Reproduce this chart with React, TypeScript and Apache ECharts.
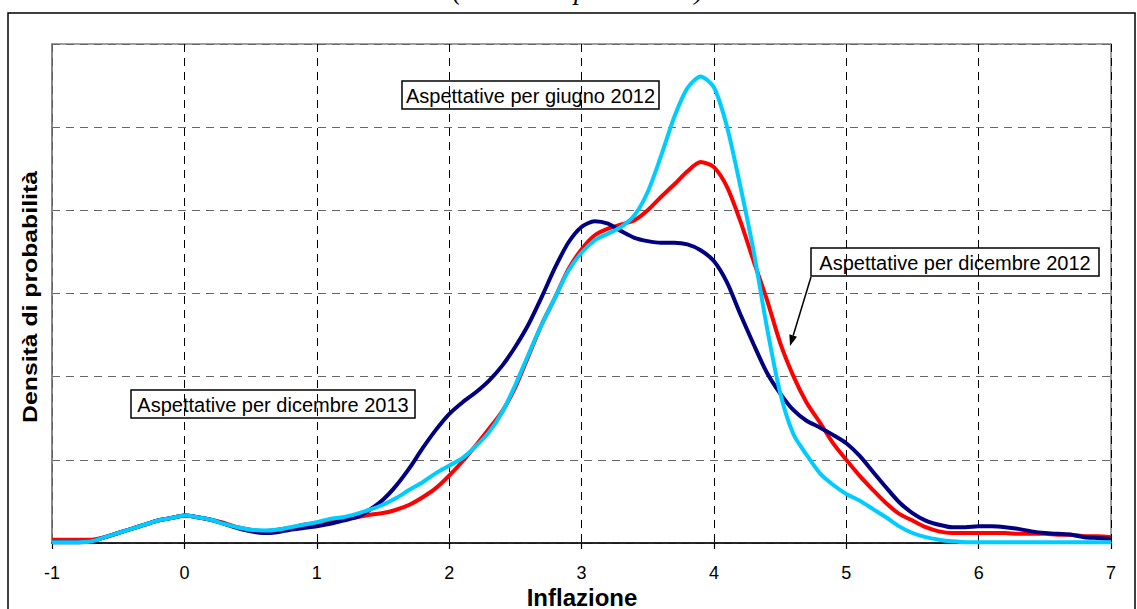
import React, { useEffect, useRef } from "react";
import * as echarts from "echarts";

const xValues: number[] = [
  -1.0, -0.9, -0.8, -0.7, -0.6, -0.5, -0.4, -0.3, -0.2, -0.1,
  0.0, 0.1, 0.2, 0.3, 0.4, 0.5, 0.6, 0.7, 0.8, 0.9,
  1.0, 1.1, 1.2, 1.3, 1.4, 1.5, 1.6, 1.7, 1.8, 1.9,
  2.0, 2.1, 2.2, 2.3, 2.4, 2.5, 2.6, 2.7, 2.8, 2.9,
  3.0, 3.1, 3.2, 3.3, 3.4, 3.5, 3.6, 3.7, 3.8, 3.9,
  4.0, 4.1, 4.2, 4.3, 4.4, 4.5, 4.6, 4.7, 4.8, 4.9,
  5.0, 5.1, 5.2, 5.3, 5.4, 5.5, 5.6, 5.7, 5.8, 5.9,
  6.0, 6.1, 6.2, 6.3, 6.4, 6.5, 6.6, 6.7, 6.8, 6.9, 7.0,
];

// Aspettative per dicembre 2013 (navy)
const dic2013: number[] = [
  0.001, 0.001, 0.001, 0.002, 0.007, 0.012, 0.017, 0.022, 0.027, 0.030,
  0.033, 0.031, 0.028, 0.023, 0.018, 0.014, 0.012, 0.013, 0.016, 0.018,
  0.020, 0.023, 0.027, 0.031, 0.040, 0.052, 0.069, 0.090, 0.114, 0.136,
  0.155, 0.169, 0.181, 0.195, 0.213, 0.236, 0.263, 0.296, 0.331, 0.361,
  0.380, 0.387, 0.384, 0.375, 0.367, 0.363, 0.361, 0.361, 0.359, 0.352,
  0.339, 0.313, 0.275, 0.239, 0.205, 0.180, 0.160, 0.147, 0.139, 0.130,
  0.120, 0.105, 0.086, 0.067, 0.049, 0.036, 0.027, 0.022, 0.019, 0.019,
  0.020, 0.020, 0.019, 0.017, 0.014, 0.012, 0.011, 0.010, 0.007, 0.006, 0.005,
];

// Aspettative per dicembre 2012 (red)
const dic2012: number[] = [
  0.004, 0.004, 0.004, 0.004, 0.007, 0.012, 0.017, 0.022, 0.027, 0.030,
  0.033, 0.031, 0.028, 0.024, 0.019, 0.016, 0.014, 0.016, 0.018, 0.022,
  0.024, 0.027, 0.029, 0.031, 0.034, 0.036, 0.040, 0.046, 0.055, 0.066,
  0.081, 0.098, 0.117, 0.137, 0.158, 0.187, 0.225, 0.263, 0.295, 0.329,
  0.353, 0.370, 0.378, 0.383, 0.388, 0.400, 0.416, 0.431, 0.447, 0.458,
  0.452, 0.428, 0.387, 0.339, 0.293, 0.241, 0.201, 0.169, 0.145, 0.120,
  0.100, 0.081, 0.064, 0.048, 0.035, 0.027, 0.019, 0.014, 0.012, 0.012,
  0.012, 0.012, 0.012, 0.011, 0.011, 0.011, 0.010, 0.010, 0.008, 0.008, 0.007,
];

// Aspettative per giugno 2012 (light blue)
const giu2012: number[] = [
  0.001, 0.001, 0.001, 0.002, 0.007, 0.012, 0.017, 0.022, 0.027, 0.030,
  0.033, 0.031, 0.028, 0.023, 0.019, 0.016, 0.015, 0.016, 0.019, 0.022,
  0.025, 0.029, 0.031, 0.035, 0.040, 0.046, 0.054, 0.064, 0.073, 0.084,
  0.093, 0.102, 0.116, 0.133, 0.157, 0.190, 0.227, 0.263, 0.295, 0.327,
  0.349, 0.364, 0.372, 0.380, 0.394, 0.422, 0.465, 0.512, 0.547, 0.561,
  0.548, 0.500, 0.429, 0.351, 0.260, 0.181, 0.131, 0.106, 0.084, 0.070,
  0.059, 0.051, 0.041, 0.031, 0.020, 0.012, 0.007, 0.004, 0.002, 0.001,
  0.001, 0.001, 0.001, 0.001, 0.001, 0.001, 0.001, 0.001, 0.001, 0.001, 0.001,
];

const seriesNames = [
  "Aspettative per dicembre 2012",
  "Aspettative per dicembre 2013",
  "Aspettative per giugno 2012",
];
const titleText = "(densità di probabilità)";
const xAxisName = "Inflazione";
const yAxisName = "Densità di probabilità";

const SANS = "Arial, 'Liberation Sans', sans-serif";

function pairs(ys: number[]): [number, number][] {
  return xValues.map((x, i) => [x, ys[i]]);
}

function labelBox(x: number, y: number, w: number, h: number, text: string) {
  return {
    type: "group",
    z: 100,
    children: [
      {
        type: "rect",
        shape: { x, y, width: w, height: h },
        style: { fill: "#fff", stroke: "#000", lineWidth: 1.5 },
      },
      {
        type: "text",
        x: x + w / 2,
        y: y + h / 2 + 1,
        style: {
          text,
          fill: "#000",
          font: `20px ${SANS}`,
          align: "center",
          verticalAlign: "middle",
        },
      },
    ],
  };
}

export default function App() {
  const ref = useRef<HTMLDivElement>(null);

  useEffect(() => {
    if (!ref.current) return;
    const chart = echarts.init(ref.current, null, { renderer: "svg" });

    // arrow geometry (from box corner to red curve)
    const ax0 = 811, ay0 = 277, ax1 = 790, ay1 = 346;
    const dx = ax1 - ax0, dy = ay1 - ay0;
    const len = Math.sqrt(dx * dx + dy * dy);
    const ux = dx / len, uy = dy / len;
    const bx = ax1 - ux * 11, by = ay1 - uy * 11;
    const px = -uy * 4, py = ux * 4;

    chart.setOption({
      animation: false,
      backgroundColor: "#fff",
      grid: {
        left: 52,
        right: 26,
        top: 44,
        bottom: 66,
        show: true,
        borderColor: "#808080",
        borderWidth: 1.5,
      },
      xAxis: {
        type: "value",
        min: -1,
        max: 7,
        interval: 1,
        axisLine: { onZero: false, lineStyle: { color: "#000", width: 1.5 } },
        axisTick: { show: true, length: 6, lineStyle: { color: "#000", width: 1.2 } },
        axisLabel: { fontFamily: SANS, fontSize: 18, color: "#000", margin: 21, lineHeight: 18 },
        splitLine: {
          show: true,
          lineStyle: { color: "#000", type: [8, 6], width: 1 },
        },
      },
      yAxis: {
        type: "value",
        min: 0,
        max: 0.6,
        interval: 0.1,
        axisLine: { show: true, onZero: false, lineStyle: { color: "#808080", width: 1.5 } },
        axisTick: { show: false },
        axisLabel: { show: false },
        splitLine: {
          show: true,
          lineStyle: { color: "#666", type: [8, 6], width: 1.2 },
        },
      },
      series: [
        {
          name: seriesNames[0],
          type: "line",
          data: pairs(dic2012),
          showSymbol: false,
          smooth: 0.25,
          lineStyle: { color: "#FF0000", width: 4 },
          z: 3,
        },
        {
          name: seriesNames[1],
          type: "line",
          data: pairs(dic2013),
          showSymbol: false,
          smooth: 0.25,
          lineStyle: { color: "#000080", width: 4 },
          z: 4,
        },
        {
          name: seriesNames[2],
          type: "line",
          data: pairs(giu2012),
          showSymbol: false,
          smooth: 0.25,
          lineStyle: { color: "#00CCFF", width: 4 },
          z: 5,
        },
      ],
      graphic: [
        {
          type: "rect",
          z: 0,
          silent: true,
          shape: { x: 8, y: 13, width: 1127, height: 640 },
          style: { fill: "none", stroke: "#000", lineWidth: 1.5 },
        },
        {
          type: "text",
          x: 578,
          y: 3,
          style: {
            text: titleText,
            fill: "#000",
            font: "italic 27px 'Liberation Serif', 'Times New Roman', serif",
            align: "center",
            verticalAlign: "bottom",
          },
        },
        {
          type: "text",
          x: 582,
          y: 597,
          style: {
            text: xAxisName,
            fill: "#000",
            font: `bold 24px ${SANS}`,
            lineHeight: 22,
            align: "center",
            verticalAlign: "middle",
          },
        },
        {
          type: "text",
          x: 30,
          y: 297,
          rotation: Math.PI / 2,
          scaleX: 1.18,
          style: {
            text: yAxisName,
            fill: "#000",
            font: `bold 21px ${SANS}`,
            align: "center",
            verticalAlign: "middle",
          },
        },
        labelBox(402, 81, 257, 28, seriesNames[2]),
        labelBox(811, 248, 288, 28, seriesNames[0]),
        labelBox(131, 390, 284, 28, seriesNames[1]),
        {
          type: "line",
          z: 100,
          shape: { x1: ax0, y1: ay0, x2: bx, y2: by },
          style: { stroke: "#000", lineWidth: 1.5 },
        },
        {
          type: "polygon",
          z: 100,
          shape: {
            points: [
              [ax1, ay1],
              [bx + px, by + py],
              [bx - px, by - py],
            ],
          },
          style: { fill: "#000" },
        },
      ],
    });

    return () => chart.dispose();
  }, []);

  return (
    <div
      ref={ref}
      style={{ position: "absolute", left: 0, top: 0, width: 1137, height: 609, background: "#fff" }}
    />
  );
}
